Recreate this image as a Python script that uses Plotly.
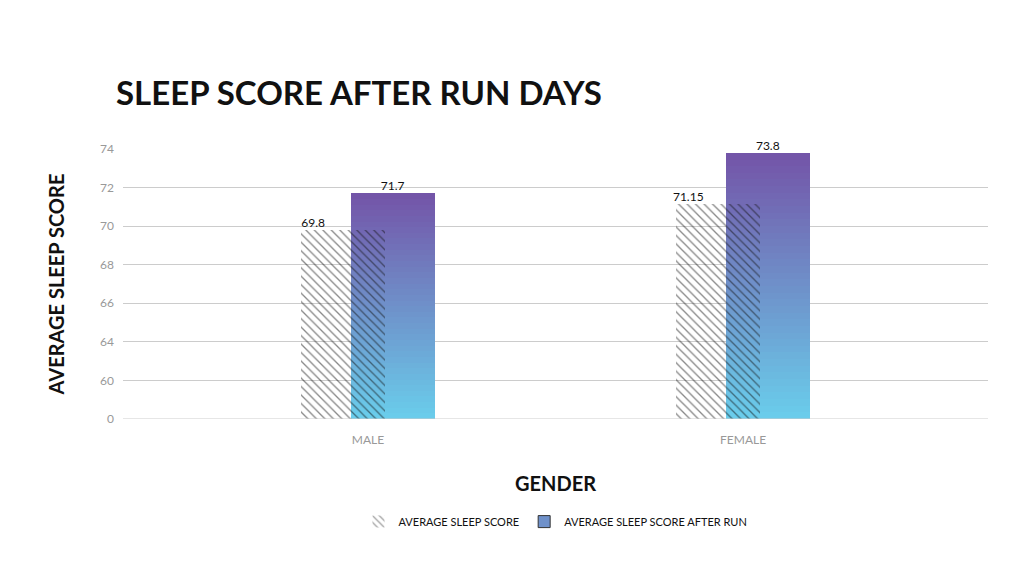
import numpy as np
import plotly.graph_objects as go

# data
genders = ['MALE', 'FEMALE']
sleep_score = [69.8, 71.15]
sleep_after_run = [71.7, 73.8]

# the chart uses a broken axis: 0, then 60, 64 ... 74 evenly spaced
tick_labels = [0, 60, 64, 66, 68, 70, 72, 74]
tick_pos = list(range(len(tick_labels)))

def to_pos(v):
	''' map a score to its position on the broken axis '''
	return float(np.interp(v, tick_labels, tick_pos))

x = np.arange(len(genders))
w = 0.224
off = 0.066
top_c = np.array([116, 84, 168])
bot_c = np.array([106, 206, 236])

fig = go.Figure()

# gradient bars built from thin stacked slices
n = 40
for i in range(n):
	t = (i + 0.5) / n
	c = bot_c + (top_c - bot_c) * t
	col = 'rgb(%d,%d,%d)' % tuple(c)
	heights = [to_pos(v) / n for v in sleep_after_run]
	bases = [to_pos(v) * i / n for v in sleep_after_run]
	fig.add_trace(go.Bar(x=x + off, y=heights, base=bases, width=w,
		marker=dict(color=col, line=dict(width=0)), showlegend=False, hoverinfo='skip'))

fig.add_trace(go.Bar(x=x - off, y=[to_pos(v) for v in sleep_score], width=w,
	marker=dict(color='rgba(0,0,0,0)', line=dict(width=0),
		pattern=dict(shape='\\', fgcolor='#111', bgcolor='rgba(0,0,0,0)', size=6, solidity=0.22)),
	name='AVERAGE SLEEP SCORE'))

# legend entry for the gradient series
fig.add_trace(go.Bar(x=[None], y=[None], name='AVERAGE SLEEP SCORE AFTER RUN',
	marker=dict(color='rgb(111,145,202)', line=dict(color='#333', width=1))))

# value labels
fig.add_trace(go.Scatter(x=list(x - off - 0.08), y=[to_pos(v) for v in sleep_score],
	mode='text', text=[str(v) for v in sleep_score], textposition='top center', cliponaxis=False,
	textfont=dict(size=12, color='#111', family='Lato'), showlegend=False, hoverinfo='skip'))
fig.add_trace(go.Scatter(x=list(x + off), y=[to_pos(v) for v in sleep_after_run],
	mode='text', text=[str(v) for v in sleep_after_run], textposition='top center', cliponaxis=False,
	textfont=dict(size=12, color='#111', family='Lato'), showlegend=False, hoverinfo='skip'))

fig.update_layout(
	barmode='overlay',
	width=1024, height=567,
	paper_bgcolor='white', plot_bgcolor='white',
	margin=dict(l=115, r=44, t=141, b=156, autoexpand=False),
	font=dict(family='Lato', color='#111'),
	title=dict(text='<b>SLEEP SCORE AFTER RUN DAYS</b>', x=108/1024, xanchor='left',
		y=1 - 85/567, yanchor='middle', font=dict(size=33, family='Lato', color='#111')),
	xaxis=dict(range=[-0.653, 1.653], tickvals=list(x), ticktext=genders, showgrid=False,
		zeroline=False, tickfont=dict(size=12, color='#999'), ticks='', ticklabelstandoff=12,
		title=dict(text='<b>GENDER</b>', font=dict(size=20, color='#111'), standoff=30)),
	yaxis=dict(range=[0, 7], tickvals=tick_pos, ticktext=[str(t) for t in tick_labels],
		showgrid=True, gridcolor='#ccc', zeroline=False, tickfont=dict(size=12, color='#999'),
		ticks='', ticklabelstandoff=8,
		title=dict(text='<b>AVERAGE SLEEP SCORE</b>', font=dict(size=20, color='#111'), standoff=30)),
	legend=dict(orientation='h', x=0.5, xanchor='center', y=-0.38, yanchor='middle',
		font=dict(size=11, color='#111'), itemwidth=30, tracegroupgap=0),
	bargap=0,
)
fig.add_shape(type='line', xref='paper', yref='y', x0=0, x1=1, y0=0, y1=0, line=dict(color='#ccc', width=1))

fig.write_html("out.html")
